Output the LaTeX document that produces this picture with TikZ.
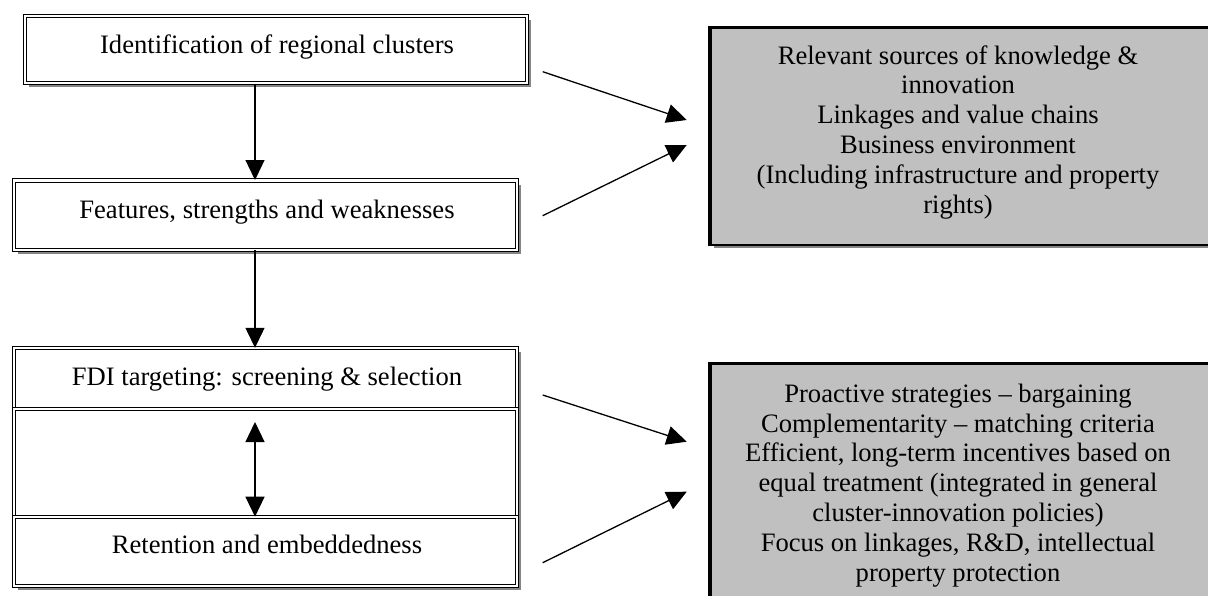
\documentclass[tikz,border=0pt]{standalone}
\usepackage{fontspec}
\setmainfont{Liberation Serif}
\usetikzlibrary{arrows.meta,shadows}
\definecolor{boxgrey}{HTML}{C0C0C0}
\definecolor{shadegrey}{HTML}{858585}
\begin{document}
\begin{tikzpicture}[x=0.5pt,y=-0.5pt,
  dbox/.style={draw=black, line width=0.5pt, double=white, double distance=1.1pt,
    fill=white, inner sep=0pt, minimum width=251.7pt,
    drop shadow={shadow xshift=2pt, shadow yshift=-2pt, opacity=1, fill=shadegrey}},
  gbox/.style={draw=black, line width=0.8pt, fill=boxgrey, inner sep=0pt,
    minimum width=264.65pt,
    drop shadow={shadow xshift=1.5pt, shadow yshift=-1.5pt, opacity=1, fill=shadegrey}},
  txt/.style={font=\fontsize{13.3pt}{14.9pt}\selectfont, align=center, inner sep=0pt, anchor=base},
  arr/.style={line width=0.65pt, -{Triangle[length=10pt,width=9.5pt]}},
  darr/.style={line width=0.65pt, {Triangle[length=10pt,width=9.5pt]}-{Triangle[length=10pt,width=9.5pt]}}
]
\useasboundingbox (0,0) rectangle (1208,595);

% left boxes
\node[dbox, minimum width=251.2pt, minimum height=33.65pt] (A) at (276,49.35) {};
\node[dbox, minimum height=34.6pt] (B) at (265.5,215.1) {};
\node[dbox, minimum height=30.25pt] (C1) at (265.5,378.55) {};
\node[dbox, minimum height=54.2pt] (C2) at (265.5,463) {};
\node[dbox, minimum height=34.4pt] (C3) at (265.5,551.6) {};

% grey boxes
\node[gbox, minimum height=108.5pt] (G1) at (975.35,136.75) {};
\draw[line width=1.65pt] (G1.south west) |- (G1.north east);
\node[gbox, minimum height=137.75pt] (G2) at (975.35,502.25) {};
\draw[line width=1.65pt] (G2.south west) |- (G2.north east);

% texts (base anchor = baseline of last line)
\node[txt] (tA) at (277,53) {Identification of regional clusters};
\node[txt] (tB) at (267,218) {Features, strengths and weaknesses};
\node[txt] (tC1) at (267,385) {FDI targeting: screening \& selection};
\node[txt] (tC3) at (267,553) {Retention and embeddedness};
\node[txt] (tG1) at (958,213) {Relevant sources of knowledge \&\\innovation\\Linkages and value chains\\Business environment\\(Including infrastructure and property\\rights)};
\node[txt] (tG2) at (958,581) {Proactive strategies -- bargaining\\Complementarity -- matching criteria\\Efficient, long-term incentives based on\\equal treatment (integrated in general\\cluster-innovation policies)\\Focus on linkages, R\&D, intellectual\\property protection};

% vertical arrows
\coordinate (ax) at (255,0);
\coordinate (dtop) at (255,422);
\draw[arr] (A.south -| ax) -- (B.north -| ax);
\draw[arr] (B.south -| ax) -- (C1.north -| ax);
\draw[darr] (dtop) -- (C3.north -| ax);

% diagonal arrows
\coordinate (a1s) at (542.7,71.7);
\coordinate (a1e) at (686.7,120);
\coordinate (b1s) at (542.7,215.7);
\coordinate (b1e) at (686.7,145);
\coordinate (a2s) at (542.7,395);
\coordinate (a2e) at (686.7,441.7);
\coordinate (b2s) at (542.7,562.7);
\coordinate (b2e) at (686.7,491.7);
\draw[arr] (a1s) -- (a1e);
\draw[arr] (b1s) -- (b1e);
\draw[arr] (a2s) -- (a2e);
\draw[arr] (b2s) -- (b2e);
\end{tikzpicture}
\end{document}
